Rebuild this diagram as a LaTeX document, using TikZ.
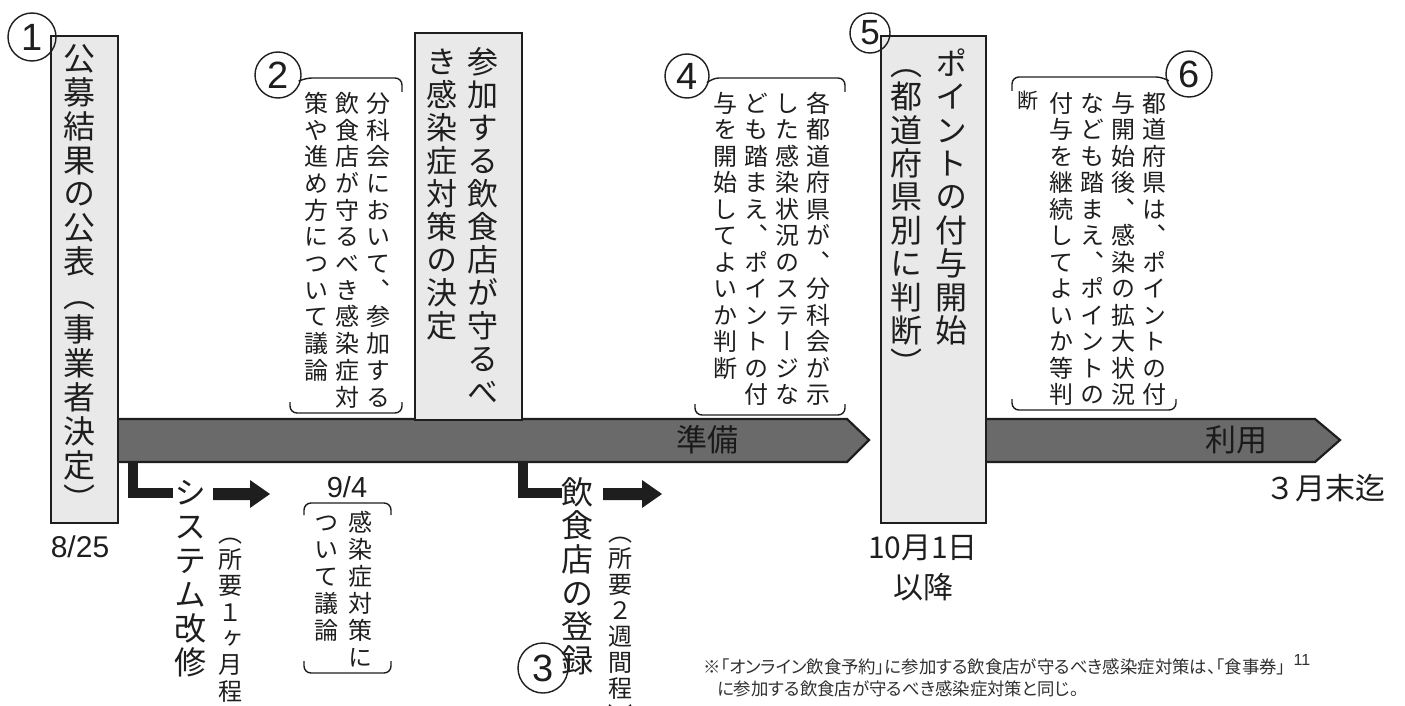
\documentclass[tikz,border=0pt]{standalone}
\usepackage{fontspec}
\newfontfamily\jp{Noto Sans CJK JP}
\newfontfamily\jpv[RawFeature=+vert]{Noto Sans CJK JP}
\newfontfamily\jpp[RawFeature=+palt]{Noto Sans CJK JP}
\newfontfamily\lat{Liberation Sans}
\newcommand\jfs[1]{\fontsize{#1}{#1}\selectfont}
\makeatletter
\def\vt@end{\vt@end}
\def\vt@loop#1{\ifx#1\vt@end\else\hbox to 1em{\hss\vrule height .88em depth .12em width 0pt #1\hss}\expandafter\vt@loop\fi}
\newcommand\vtcol[2]{\vbox{\baselineskip=#1\relax\lineskiplimit=-\maxdimen\vt@loop#2\vt@end}}
\makeatother
\definecolor{ink}{HTML}{1E1E1E}
\definecolor{boxfill}{HTML}{E9E9E9}
\definecolor{bargray}{HTML}{6A6A6A}
\definecolor{bartext}{HTML}{1A1A1A}
\definecolor{notegray}{HTML}{303030}
\tikzset{
  vt/.style={inner sep=0,anchor=north,text=ink},
  mainbox/.style={draw=ink,fill=boxfill,line width=2,inner sep=0,anchor=north west},
  circnum/.style={circle,draw=ink,line width=1.4,inner sep=0,font=\lat\jfs{38},text=ink},
  brk/.style={draw=ink,line width=1.4,rounded corners=7},
  bar/.style={fill=bargray,draw=ink,line width=2.2,line join=miter},
  lconn/.style={draw=ink,line width=10,line join=miter},
  blockarrow/.style={fill=ink},
  plain/.style={inner sep=0,text=ink},
}
\begin{document}
\begin{tikzpicture}[x=1pt,y=-1pt]
\useasboundingbox[fill=white] (0,0) rectangle (1405,706);

% timeline bars
\path[bar] (110,419) -- (847,419) -- (869,440) -- (847,462) -- (110,462) -- cycle;
\path[bar] (980,419) -- (1315,419) -- (1340,440) -- (1315,462) -- (980,462) -- cycle;
\node[plain,text=bartext,font=\jp\jfs{31}] (prep) at (707,440) {準備};
\node[plain,text=bartext,font=\jp\jfs{31}] (use) at (1236,440) {利用};

% main boxes
\node[mainbox,minimum width=67,minimum height=487] (box1) at (50,35) {};
\node[mainbox,minimum width=107,minimum height=387] (box2) at (414,32) {};
\node[mainbox,minimum width=105,minimum height=487] (box5) at (880,35) {};

\node[vt,font=\jpv\jfs{32}] (t1) at (79,42) {\vtcol{33.9pt}{公募結果の公表（事業者決定）}};
\node[vt,font=\jpv\jfs{31}] (t2a) at (483,46.5) {\vtcol{33pt}{参加する飲食店が守るべ}};
\node[vt,font=\jpv\jfs{31}] (t2b) at (442,46.5) {\vtcol{33pt}{き感染症対策の決定}};
\node[vt,font=\jpv\jfs{32}] (t5a) at (951,47) {\vtcol{33.4pt}{ポイントの付与開始}};
\node[vt,font=\jpv\jfs{32}] (t5b) at (906,47) {\vtcol{33.4pt}{（都道府県別に判断）}};

% circled numbers
\node[circnum,minimum size=48] (c1) at (32,37) {1};
\node[circnum,minimum size=46] (c2) at (278,75) {2};
\node[circnum,minimum size=50] (c3) at (543,668) {3};
\node[circnum,minimum size=44] (c4) at (687,76) {4};
\node[circnum,minimum size=40,font=\lat\jfs{35}] (c5) at (870,33) {5};
\node[circnum,minimum size=46] (c6) at (1189,74) {6};

% bracket 2
\draw[brk] (c2.-12) -- (305,78) -- (402,78) -- (402,92);
\draw[brk] (290,402) -- (290,413) -- (402,413) -- (402,402);
\node[vt,font=\jpv\jfs{24}] (b2a) at (378,91) {\vtcol{26.7pt}{分科会において、参加する}};
\node[vt,font=\jpv\jfs{24}] (b2b) at (347,91) {\vtcol{26.7pt}{飲食店が守るべき感染症対}};
\node[vt,font=\jpv\jfs{24}] (b2c) at (316,91) {\vtcol{26.7pt}{策や進め方について議論}};

% bracket 4
\draw[brk] (c4.-12) -- (712,78) -- (845,78) -- (845,92);
\draw[brk] (695,404) -- (695,415) -- (845,415) -- (845,404);
\node[vt,font=\jpv\jfs{24}] (b4a) at (818,91) {\vtcol{26.5pt}{各都道府県が、分科会が示}};
\node[vt,font=\jpv\jfs{24}] (b4b) at (787,91) {\vtcol{26.5pt}{した感染状況のステージな}};
\node[vt,font=\jpv\jfs{24}] (b4c) at (756,91) {\vtcol{26.5pt}{ども踏まえ、ポイントの付}};
\node[vt,font=\jpv\jfs{24}] (b4d) at (725,91) {\vtcol{26.5pt}{与を開始してよいか判断}};

% bracket 6
\draw[brk] (c6.192) -- (1163,77) -- (1012,77) -- (1012,91);
\draw[brk] (1012,399) -- (1012,410) -- (1176,410) -- (1176,399);
\node[vt,font=\jpv\jfs{24}] (b6a) at (1154,91) {\vtcol{26.5pt}{都道府県は、ポイントの付}};
\node[vt,font=\jpv\jfs{24}] (b6b) at (1123,91) {\vtcol{26.5pt}{与開始後、感染の拡大状況}};
\node[vt,font=\jpv\jfs{24}] (b6c) at (1092,91) {\vtcol{26.5pt}{なども踏まえ、ポイントの}};
\node[vt,font=\jpv\jfs{24}] (b6d) at (1061,91) {\vtcol{26.5pt}{付与を継続してよいか等判}};
\node[plain,font=\jp\jfs{21}] (b6e) at (1028,101) {断};

% below the bar: system
\coordinate (l1top) at (132.5,462);
\coordinate (l1end) at (173,493);
\draw[lconn] (l1top) |- (l1end);
\node[vt,font=\jpv\jfs{32}] (sys) at (190,476) {\vtcol{34pt}{システム改修}};
\fill[blockarrow] (213,488) -- (250,488) -- (250,480) -- (270,494) -- (250,508) -- (250,500) -- (213,500) -- cycle;
\node[vt,font=\jpv\jfs{24}] (sysdur) at (230,521) {\vtcol{26.3pt}{（所要１ヶ月程）}};

% 9/4
\node[plain,font=\lat\jfs{29}] (d94) at (347,487) {9/4};
\draw[brk] (304,515) -- (304,503) -- (391,503) -- (391,515);
\draw[brk] (304,661) -- (304,673) -- (391,673) -- (391,661);
\node[vt,font=\jpv\jfs{24}] (k1) at (360,510) {\vtcol{27pt}{感染症対策に}};
\node[vt,font=\jpv\jfs{24}] (k2) at (326,510) {\vtcol{27pt}{ついて議論}};

% restaurant registration
\coordinate (l2top) at (523,462);
\coordinate (l2end) at (562,493);
\draw[lconn] (l2top) |- (l2end);
\node[vt,font=\jpv\jfs{32}] (reg) at (577,476) {\vtcol{33.6pt}{飲食店の登録}};
\fill[blockarrow] (603,488) -- (642,488) -- (642,480) -- (662,494) -- (642,508) -- (642,500) -- (603,500) -- cycle;
\node[vt,font=\jpv\jfs{24}] (regdur) at (620,520) {\vtcol{26.1pt}{（所要２週間程）}};

% dates
\node[plain,font=\lat\jfs{30}] (d825) at (80,547) {8/25};
\node[plain,font=\jp\jfs{30}] (d101) at (923,548) {10月1日};
\node[plain,font=\jp\jfs{30}] (d101b) at (923,587) {以降};
\node[plain,font=\jp\jfs{30}] (dend) at (1325,488) {３月末迄};

% footnote
\node[plain,anchor=west,text=notegray,font=\jpp\jfs{17.4}] (note1) at (703,667) {※「オンライン飲食予約」に参加する飲食店が守るべき感染症対策は、「食事券」};
\node[plain,anchor=west,text=notegray,font=\jpp\jfs{17.4}] (note2) at (717,689) {に参加する飲食店が守るべき感染症対策と同じ。};
\node[plain,text=notegray,font=\lat\jfs{16}] (pg) at (1302,660) {11};
\end{tikzpicture}
\end{document}
